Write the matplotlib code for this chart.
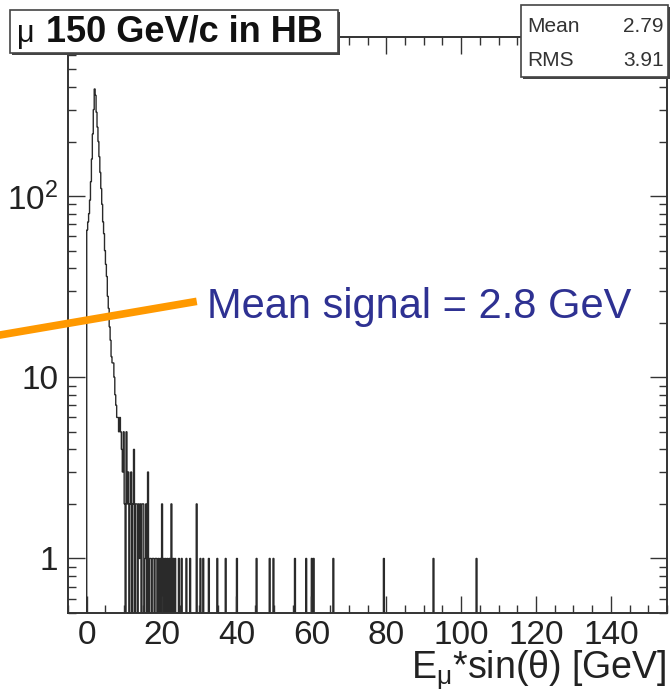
import matplotlib.pyplot as plt
from matplotlib.patches import Rectangle
from matplotlib.lines import Line2D
from matplotlib.ticker import FixedLocator, FixedFormatter, MultipleLocator, LogLocator, NullFormatter
import numpy as np

plt.rcParams['font.family'] = ['Liberation Sans', 'DejaVu Sans']
plt.rcParams['mathtext.fontset'] = 'custom'
plt.rcParams['mathtext.rm'] = 'Liberation Sans'
plt.rcParams['mathtext.default'] = 'regular'

# histogram: 0.25 GeV bins from -5 to 155
x_min, x_max, bin_width = -5.0, 155.0, 0.25

# dense part, bins starting at 0.0, 0.25, ... 9.75 GeV
core_counts = [65, 72, 80, 95, 120, 160, 220, 300, 390, 360,
               290, 240, 200, 165, 135, 110, 90, 72, 62, 50,
               42, 36, 28, 24, 19, 16, 13, 12, 12, 10,
               8, 7, 6, 6, 5, 6, 5, 4, 3, 5]

# sparse tail, low edge of bin (GeV) and entries
tail_edges = [10.0, 10.5, 10.75, 11.0, 11.5, 11.75, 12.25, 12.5, 13.0, 13.25,
              13.75, 14.0, 14.25, 14.75, 15.0, 15.5, 15.75, 16.25, 16.75, 17.0,
              17.5, 17.75, 18.25, 18.5, 19.0, 19.5, 20.0, 20.5, 21.0, 21.5,
              22.0, 22.5, 23.0, 23.5, 24.5, 25.25, 26.5, 27.5, 29.25, 30.25,
              31.0, 32.5, 34.75, 37.0, 40.0, 45.25, 48.75, 49.75, 55.5, 58.5,
              60.0, 60.5, 65.75, 79.25, 92.5, 104.0]
tail_counts = [2, 5, 2, 3, 2, 3, 2, 4, 2, 2,
               2, 1, 2, 2, 2, 1, 2, 3, 1, 1,
               1, 1, 1, 1, 1, 1, 2, 1, 1, 1,
               1, 2, 1, 1, 1, 1, 1, 1, 2, 1,
               1, 1, 1, 1, 1, 1, 1, 1, 1, 1,
               1, 1, 1, 1, 1, 1]

stat_labels = ['Mean', 'RMS']
stat_values = ['2.79', '3.91']
y_ticks = [1, 10, 100]
y_tick_labels = ['1', '10', '$10^{2}$']

edges = np.arange(x_min, x_max + bin_width / 2, bin_width)
counts = np.zeros(len(edges) - 1)
i0 = int(round((0.0 - x_min) / bin_width))
counts[i0:i0 + len(core_counts)] = core_counts
for e, c in zip(tail_edges, tail_counts):
    counts[int(round((e - x_min) / bin_width))] = c

W, H = 672, 698
fig = plt.figure(figsize=(W / 100, H / 100), dpi=100)
ax = fig.add_axes([68 / W, 1 - 613 / H, (667 - 68) / W, (613 - 37) / H])

ax.stairs(np.where(counts > 0, counts, 1e-3), edges, color='#2a2a2a', lw=1.0)
ax.set_yscale('log')
ax.set_xlim(x_min, x_max)
ax.set_ylim(0.5, 755)

ax.xaxis.set_major_locator(MultipleLocator(20))
ax.xaxis.set_minor_locator(MultipleLocator(5))
ax.yaxis.set_major_locator(FixedLocator(y_ticks))
ax.yaxis.set_major_formatter(FixedFormatter(y_tick_labels))
ax.yaxis.set_minor_locator(LogLocator(base=10, subs=np.arange(2, 10)))
ax.yaxis.set_minor_formatter(NullFormatter())

ax.tick_params(which='both', direction='in', top=True, right=True,
               color='#333333', labelsize=24, labelcolor='#222222')
ax.tick_params(axis='x', which='major', length=12, width=1, pad=5)
ax.tick_params(axis='x', which='minor', length=6, width=1)
ax.tick_params(axis='y', which='major', length=12, width=1, pad=7)
ax.tick_params(axis='y', which='minor', length=6, width=1)
for s in ax.spines.values():
    s.set_linewidth(1.4)
    s.set_color('#333333')

ax.set_xlabel('E$_{μ}$*sin(θ) [GeV]', fontsize=27, color='#222222')
ax.xaxis.set_label_coords(1.0, -(670 - 613) / 576)
ax.xaxis.label.set_horizontalalignment('right')
ax.xaxis.label.set_verticalalignment('center')

# boxes drawn in pixel positions of the figure, with a small shadow
def fig_box(x0, y0, x1, y1):
    sh = Rectangle((x0 / W + 2 / W, 1 - y1 / H - 2 / H), (x1 - x0) / W, (y1 - y0) / H,
                   transform=fig.transFigure, facecolor='#444444', edgecolor='none', zorder=5)
    bx = Rectangle((x0 / W, 1 - y1 / H), (x1 - x0) / W, (y1 - y0) / H,
                   transform=fig.transFigure, facecolor='white', edgecolor='#444444',
                   lw=1.2, zorder=6)
    fig.add_artist(sh)
    fig.add_artist(bx)

fig_box(10, 10, 338, 53)
fig.text(17 / W, 1 - 34 / H, 'μ', fontsize=22, ha='left', va='center',
         color='#111111', zorder=7)
fig.text(46 / W, 1 - 32 / H, '150 GeV/c in HB', fontsize=26, fontweight='bold',
         ha='left', va='center', color='#111111', zorder=7)

fig_box(521, 5, 668, 77)
for k, (lab, val) in enumerate(zip(stat_labels, stat_values)):
    yy = 1 - (27 + 33 * k) / H
    fig.text(527 / W, yy, lab, fontsize=15, ha='left', va='center', color='#333333', zorder=7)
    fig.text(664 / W, yy, val, fontsize=15, ha='right', va='center', color='#333333', zorder=7)

# annotation
fig.add_artist(Line2D([0, 193 / W], [1 - 335 / H, 1 - 302 / H], transform=fig.transFigure,
                      color='#ff9900', lw=5.5, zorder=8))
fig.text(207 / W, 1 - 307 / H, 'Mean signal = 2.8 GeV', fontsize=30, color='#2e3192',
         ha='left', va='center', zorder=8)

fig.savefig('out.png', dpi=100)
